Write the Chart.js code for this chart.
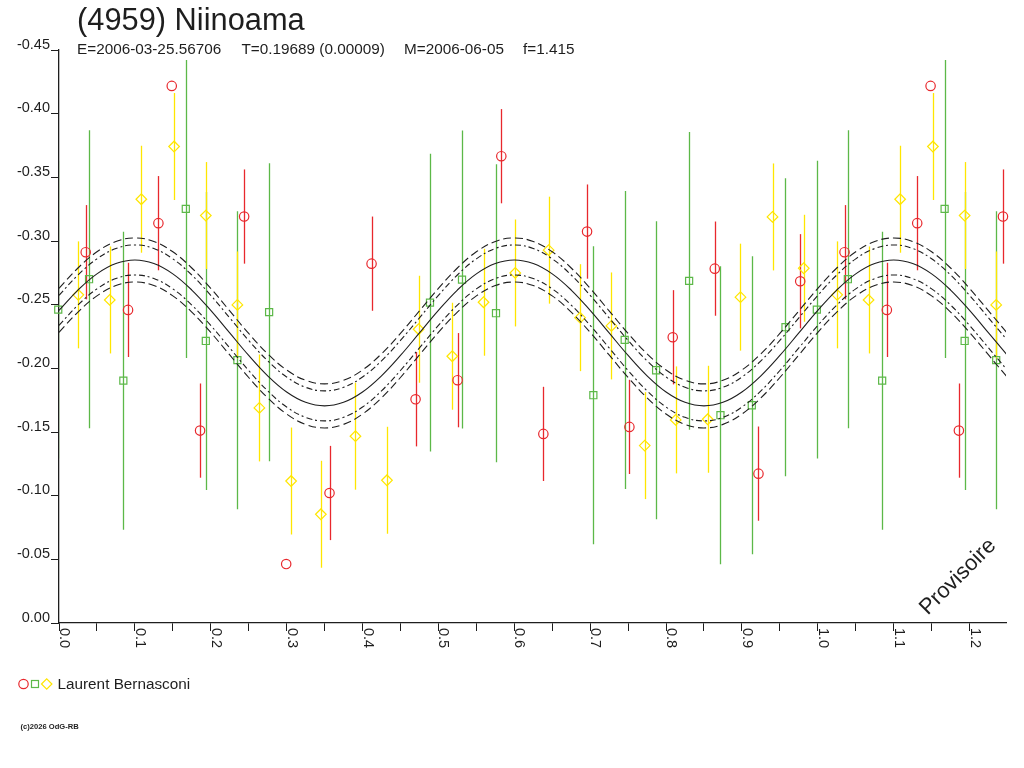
<!DOCTYPE html>
<html>
<head>
<meta charset="utf-8">
<title>(4959) Niinoama</title>
<script src="https://cdn.jsdelivr.net/npm/chart.js@4.4.1/dist/chart.umd.min.js"></script>
<style>
  html, body { margin: 0; padding: 0; background: #fff; }
  #wrap { width: 1024px; height: 768px; }
</style>
</head>
<body>
<div id="wrap"><canvas id="lc" width="1024" height="768"></canvas></div>
<script>
// header texts
const titleText = "(4959) Niinoama";
const infoParts = ["E=2006-03-25.56706", "T=0.19689 (0.00009)", "M=2006-06-05", "f=1.415"];
const observer = "Laurent Bernasconi";
const footerText = "(c)2026 OdG-RB";
const stampText = "Provisoire";

// x tick labels (phase)
const phaseLabels = ["0.0", "0.1", "0.2", "0.3", "0.4", "0.5", "0.6", "0.7", "0.8", "0.9", "1.0", "1.1", "1.2"];

// red circles
const redPhase = [0.0352, 0.0910, 0.1310, 0.1486, 0.1859, 0.2440, 0.2994, 0.3565, 0.4119, 0.4699, 0.5253, 0.5829, 0.6383,
    0.6959, 0.7517, 0.8088, 0.8642, 0.9218, 0.9768, 1.0352, 1.0910, 1.1310, 1.1486, 1.1859, 1.2440];
const redMag = [-0.2912, -0.2459, -0.3140, -0.4218, -0.1511, -0.3192, -0.0463, -0.1021, -0.2822, -0.1757, -0.1907, -0.3666, -0.1485,
    -0.3074, -0.1540, -0.2244, -0.2783, -0.1173, -0.2684, -0.2912, -0.2459, -0.3140, -0.4218, -0.1511, -0.3192];
const redErr = [0.037, 0.037, 0.037, 0, 0.037, 0.037, 0, 0.037, 0.037, 0.037, 0.037, 0.037, 0.037,
    0.037, 0.037, 0.037, 0.037, 0.037, 0.037, 0.037, 0.037, 0.037, 0, 0.037, 0.037];

// green squares
const greenPhase = [-0.0010, 0.0396, 0.0848, 0.1671, 0.1935, 0.2351, 0.2769, 0.4889, 0.5311, 0.5759, 0.7042, 0.7455,
    0.7869, 0.8304, 0.8717, 0.9130, 0.9574, 0.9987, 1.0396, 1.0848, 1.1671, 1.1935, 1.2351];
const greenMag = [-0.2461, -0.2700, -0.1903, -0.3252, -0.2215, -0.2064, -0.2441, -0.2516, -0.2697, -0.2433, -0.1789, -0.2223,
    -0.1985, -0.2687, -0.1632, -0.1710, -0.2323, -0.2461, -0.2700, -0.1903, -0.3252, -0.2215, -0.2064];
const greenErr = [0.117, 0.117, 0.117, 0.117, 0.117, 0.117, 0.117, 0.117, 0.117, 0.117, 0.117, 0.117,
    0.117, 0.117, 0.117, 0.117, 0.117, 0.117, 0.117, 0.117, 0.117, 0.117, 0.117];

// yellow diamonds
const yellowPhase = [0.0255, 0.0669, 0.1085, 0.1517, 0.1935, 0.2351, 0.2641, 0.3059, 0.3451, 0.3907, 0.4322, 0.4739, 0.5183,
    0.5595, 0.6013, 0.6453, 0.6867, 0.7280, 0.7719, 0.8127, 0.8549, 0.8981, 0.9403, 0.9815, 1.0255, 1.0669, 1.1085,
    1.1517, 1.1935, 1.2351];
const yellowMag = [-0.2577, -0.2537, -0.3328, -0.3742, -0.3200, -0.2498, -0.1689, -0.1115, -0.0854, -0.1467, -0.1121, -0.2307, -0.2095,
    -0.2519, -0.2749, -0.2928, -0.2398, -0.2333, -0.1393, -0.1595, -0.1600, -0.2559, -0.3189, -0.2786, -0.2577, -0.2537, -0.3328,
    -0.3742, -0.3200, -0.2498];
const yellowErr = [0.042, 0.042, 0.042, 0.042, 0.042, 0.042, 0.042, 0.042, 0.042, 0.042, 0.042, 0.042, 0.042,
    0.042, 0.042, 0.042, 0.042, 0.042, 0.042, 0.042, 0.042, 0.042, 0.042, 0.042, 0.042, 0.042, 0.042,
    0.042, 0.042, 0.042];

// fitted curve and its envelopes, read every 0.025 in phase
const curvePhase = [0, 0.025, 0.05, 0.075, 0.1, 0.125, 0.15, 0.175, 0.2, 0.225, 0.25, 0.275, 0.3, 0.325, 0.35, 0.375,
    0.4, 0.425, 0.45, 0.475, 0.5, 0.525, 0.55, 0.575, 0.6, 0.625, 0.65, 0.675, 0.7, 0.725, 0.75, 0.775, 0.8, 0.825,
    0.85, 0.875, 0.9, 0.925, 0.95, 0.975, 1.0, 1.025, 1.05, 1.075, 1.1, 1.125, 1.15, 1.175, 1.2, 1.225, 1.25];
const fitMag = [-0.2455, -0.2615, -0.2742, -0.2823, -0.2851, -0.2823, -0.2742, -0.2615, -0.2455, -0.2278,
    -0.2101, -0.1941, -0.1814, -0.1733, -0.1705, -0.1733, -0.1814, -0.1941, -0.2101, -0.2278,
    -0.2455, -0.2615, -0.2742, -0.2823, -0.2851, -0.2823, -0.2742, -0.2615, -0.2455, -0.2278,
    -0.2101, -0.1941, -0.1814, -0.1733, -0.1705, -0.1733, -0.1814, -0.1941, -0.2101, -0.2278,
    -0.2455, -0.2615, -0.2742, -0.2823, -0.2851, -0.2823, -0.2742, -0.2615, -0.2455, -0.2278, -0.2101];
const innerHi = [-0.2573, -0.2733, -0.2860, -0.2941, -0.2969, -0.2941, -0.2860, -0.2733, -0.2573, -0.2396,
    -0.2219, -0.2059, -0.1932, -0.1851, -0.1823, -0.1851, -0.1932, -0.2059, -0.2219, -0.2396,
    -0.2573, -0.2733, -0.2860, -0.2941, -0.2969, -0.2941, -0.2860, -0.2733, -0.2573, -0.2396,
    -0.2219, -0.2059, -0.1932, -0.1851, -0.1823, -0.1851, -0.1932, -0.2059, -0.2219, -0.2396,
    -0.2573, -0.2733, -0.2860, -0.2941, -0.2969, -0.2941, -0.2860, -0.2733, -0.2573, -0.2396, -0.2219];
const innerLo = [-0.2337, -0.2497, -0.2624, -0.2705, -0.2733, -0.2705, -0.2624, -0.2497, -0.2337, -0.2160,
    -0.1983, -0.1823, -0.1696, -0.1615, -0.1587, -0.1615, -0.1696, -0.1823, -0.1983, -0.2160,
    -0.2337, -0.2497, -0.2624, -0.2705, -0.2733, -0.2705, -0.2624, -0.2497, -0.2337, -0.2160,
    -0.1983, -0.1823, -0.1696, -0.1615, -0.1587, -0.1615, -0.1696, -0.1823, -0.1983, -0.2160,
    -0.2337, -0.2497, -0.2624, -0.2705, -0.2733, -0.2705, -0.2624, -0.2497, -0.2337, -0.2160, -0.1983];
const outerHi = [-0.2628, -0.2788, -0.2915, -0.2996, -0.3024, -0.2996, -0.2915, -0.2788, -0.2628, -0.2451,
    -0.2274, -0.2114, -0.1987, -0.1906, -0.1878, -0.1906, -0.1987, -0.2114, -0.2274, -0.2451,
    -0.2628, -0.2788, -0.2915, -0.2996, -0.3024, -0.2996, -0.2915, -0.2788, -0.2628, -0.2451,
    -0.2274, -0.2114, -0.1987, -0.1906, -0.1878, -0.1906, -0.1987, -0.2114, -0.2274, -0.2451,
    -0.2628, -0.2788, -0.2915, -0.2996, -0.3024, -0.2996, -0.2915, -0.2788, -0.2628, -0.2451, -0.2274];
const outerLo = [-0.2282, -0.2442, -0.2569, -0.2650, -0.2678, -0.2650, -0.2569, -0.2442, -0.2282, -0.2105,
    -0.1928, -0.1768, -0.1641, -0.1560, -0.1532, -0.1560, -0.1641, -0.1768, -0.1928, -0.2105,
    -0.2282, -0.2442, -0.2569, -0.2650, -0.2678, -0.2650, -0.2569, -0.2442, -0.2282, -0.2105,
    -0.1928, -0.1768, -0.1641, -0.1560, -0.1532, -0.1560, -0.1641, -0.1768, -0.1928, -0.2105,
    -0.2282, -0.2442, -0.2569, -0.2650, -0.2678, -0.2650, -0.2569, -0.2442, -0.2282, -0.2105, -0.1928];

const FONT = '"Liberation Sans", Arial, sans-serif';
const INK = "#1e1e1e";
const RED = "#e8282d";
const GREEN = "#5cb848";
const YELLOW = "#ffe600";

const toPoints = (xs, ys) => xs.map((x, i) => ({ x: x, y: ys[i] }));

const curve = (ys, dash) => ({
    data: toPoints(curvePhase, ys),
    showLine: true,
    borderColor: INK,
    borderWidth: 1.1,
    borderDash: dash,
    pointRadius: 0,
    tension: 0.4,
    fill: false,
});

const marks = (xs, ys, errs, color, style, radius) => ({
    data: toPoints(xs, ys),
    errors: errs,
    showLine: false,
    pointStyle: style,
    pointRadius: radius,
    pointBorderWidth: 1.2,
    borderColor: color,
    backgroundColor: "rgba(0,0,0,0)",
    clip: false,
});

// vertical error bars, drawn through the chart's own scales
const errorBars = {
    id: "errorBars",
    beforeDatasetsDraw(chart) {
        const { ctx, chartArea, scales: { x, y } } = chart;
        ctx.save();
        ctx.beginPath();
        ctx.rect(chartArea.left, chartArea.top, chartArea.right - chartArea.left + 4, chartArea.bottom - chartArea.top);
        ctx.clip();
        ctx.lineWidth = 1.3;
        chart.data.datasets.forEach((ds) => {
            if (!ds.errors) return;
            ctx.strokeStyle = ds.borderColor;
            ds.data.forEach((pt, i) => {
                const e = ds.errors[i];
                if (!e) return;
                const px = Math.round(x.getPixelForValue(pt.x)) + 0.5;
                ctx.beginPath();
                ctx.moveTo(px, y.getPixelForValue(pt.y - e));
                ctx.lineTo(px, y.getPixelForValue(pt.y + e));
                ctx.stroke();
            });
        });
        ctx.restore();
    },
};

// texts, rotated phase labels, legend
const decorations = {
    id: "decorations",
    afterDraw(chart) {
        const { ctx, scales: { x } } = chart;
        ctx.save();
        ctx.fillStyle = INK;
        ctx.textBaseline = "alphabetic";
        ctx.textAlign = "left";

        ctx.font = "30.8px " + FONT;
        ctx.fillText(titleText, 77, 30);

        ctx.font = "15.3px " + FONT;
        const infoX = [77, 241.5, 404, 523];
        infoParts.forEach((t, i) => ctx.fillText(t, infoX[i], 54));

        // phase labels, reading downwards
        ctx.font = "14.5px " + FONT;
        phaseLabels.forEach((lab) => {
            const px = x.getPixelForValue(parseFloat(lab));
            ctx.save();
            ctx.translate(px + 1, 628);
            ctx.rotate(Math.PI / 2);
            ctx.fillText(lab, 0, 0);
            ctx.restore();
        });

        // legend
        ctx.lineWidth = 1.2;
        ctx.strokeStyle = RED;
        ctx.beginPath();
        ctx.arc(23.5, 684, 4.7, 0, Math.PI * 2);
        ctx.stroke();
        ctx.strokeStyle = GREEN;
        ctx.strokeRect(31.5, 680.5, 7, 7);
        ctx.strokeStyle = YELLOW;
        ctx.beginPath();
        ctx.moveTo(41.5, 684);
        ctx.lineTo(46.7, 678.8);
        ctx.lineTo(51.9, 684);
        ctx.lineTo(46.7, 689.2);
        ctx.closePath();
        ctx.stroke();
        ctx.font = "15.3px " + FONT;
        ctx.fillText(observer, 57.5, 688.5);

        ctx.font = "bold 7.6px " + FONT;
        ctx.fillText(footerText, 20.5, 728.5);

        // provisional stamp
        ctx.font = "22px " + FONT;
        ctx.textAlign = "center";
        ctx.textBaseline = "middle";
        ctx.translate(958, 577);
        ctx.rotate(-Math.PI / 4);
        ctx.fillText(stampText, 0, 0);
        ctx.restore();
    },
};

new Chart(document.getElementById("lc"), {
    type: "scatter",
    data: {
        datasets: [
            curve(outerHi, [8, 4]),
            curve(innerHi, [6, 3, 2, 3]),
            curve(fitMag, []),
            curve(innerLo, [6, 3, 2, 3]),
            curve(outerLo, [8, 4]),
            marks(greenPhase, greenMag, greenErr, GREEN, "rect", 5),
            marks(yellowPhase, yellowMag, yellowErr, YELLOW, "rectRot", 5.3),
            marks(redPhase, redMag, redErr, RED, "circle", 4.7),
        ],
    },
    options: {
        responsive: false,
        animation: false,
        devicePixelRatio: 1,
        layout: { padding: { top: 50, right: 18, bottom: 0, left: 0 } },
        plugins: {
            legend: { display: false },
            tooltip: { enabled: false },
            title: { display: false },
        },
        scales: {
            x: {
                type: "linear",
                min: 0,
                max: 1.248,
                border: { color: INK, width: 1.3 },
                grid: { drawOnChartArea: false, color: INK, tickLength: 8, lineWidth: 1 },
                ticks: { stepSize: 0.05, includeBounds: false, display: false },
                afterFit: (s) => { s.height = 145; },
            },
            y: {
                type: "linear",
                reverse: true,
                min: -0.45,
                max: 0,
                border: { color: INK, width: 1.3 },
                grid: { drawOnChartArea: false, color: INK, tickLength: 8, lineWidth: 1 },
                ticks: {
                    stepSize: 0.05,
                    padding: 1,
                    labelOffset: -5.5,
                    color: INK,
                    font: { family: FONT, size: 14.5 },
                    callback: (v) => (Math.abs(v) < 1e-9 ? 0 : v).toFixed(2),
                },
                afterFit: (s) => { s.width = 59; },
            },
        },
    },
    plugins: [errorBars, decorations],
});
</script>
</body>
</html>
